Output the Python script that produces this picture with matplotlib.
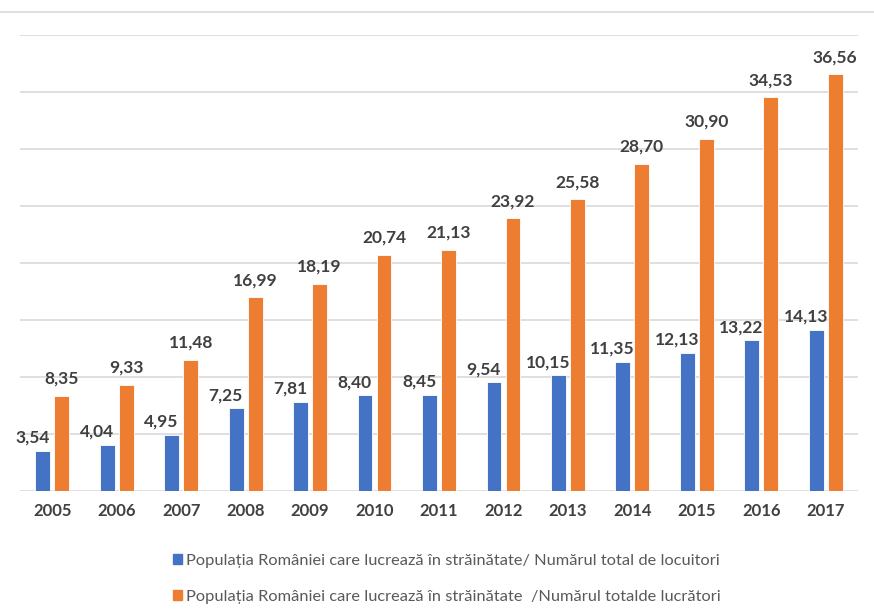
import numpy as np
import matplotlib
matplotlib.use("Agg")
import matplotlib.pyplot as plt
from matplotlib.patches import Patch
from matplotlib.lines import Line2D

plt.rcParams['font.family'] = ['Lato', 'DejaVu Sans']

years = ["2005", "2006", "2007", "2008", "2009", "2010", "2011",
         "2012", "2013", "2014", "2015", "2016", "2017"]
locuitori = [3.54, 4.04, 4.95, 7.25, 7.81, 8.40, 8.45,
             9.54, 10.15, 11.35, 12.13, 13.22, 14.13]
lucratori = [8.35, 9.33, 11.48, 16.99, 18.19, 20.74, 21.13,
             23.92, 25.58, 28.70, 30.90, 34.53, 36.56]
labels = ["Populația României care lucrează în străinătate/ Numărul total de locuitori",
          "Populația României care lucrează în străinătate  /Numărul totalde lucrători"]

blue = "#4472C4"
orange = "#ED7D31"
txtcol = "#404040"

fig = plt.figure(figsize=(8.74, 6.09), dpi=100)
ax = fig.add_axes([20/874, 1-491/609, (858-20)/874, (491-35)/609])

x = np.arange(len(years))
w = 0.23
off = 0.147
ax.bar(x - off, locuitori, w, color=blue, edgecolor="white", linewidth=0.6, zorder=3)
ax.bar(x + off, lucratori, w, color=orange, edgecolor="white", linewidth=0.6, zorder=3)

fmt = lambda v: f"{v:.2f}".replace(".", ",")
for xi, v in zip(x, locuitori):
    ax.text(xi - off - 0.16, v + 0.45, fmt(v), ha="center", va="bottom",
            fontsize=12.5, fontweight="bold", color=txtcol)
for xi, v in zip(x, lucratori):
    ax.text(xi + off, v + 0.8, fmt(v), ha="center", va="bottom",
            fontsize=12.5, fontweight="bold", color=txtcol)

ax.set_xlim(-0.5, len(years) - 0.5)
ax.set_ylim(0, 40)
ax.set_yticks(np.arange(0, 41, 5))
ax.set_yticklabels([])
ax.tick_params(axis="y", length=0)
ax.set_xticks(x)
ax.set_xticklabels(years, fontsize=12, fontweight="bold", color=txtcol)
ax.tick_params(axis="x", length=0, pad=9)
ax.grid(axis="y", color="#d9d9d9", linewidth=1.2, zorder=0)
for s in ax.spines.values():
    s.set_visible(False)

# chart area top border
fig.add_artist(Line2D([0, 1], [1-12/609, 1-12/609], color="#d9d9d9", linewidth=1.2))

handles = [Patch(color=blue), Patch(color=orange)]
fig.legend(handles, labels, loc="upper left", bbox_to_anchor=(158/874, 1-539/609),
           frameon=False, fontsize=11.8, handlelength=0.55, handleheight=0.55,
           handletextpad=0.25, labelspacing=1.35, labelcolor="#595959")

fig.savefig("out.png", dpi=100)
